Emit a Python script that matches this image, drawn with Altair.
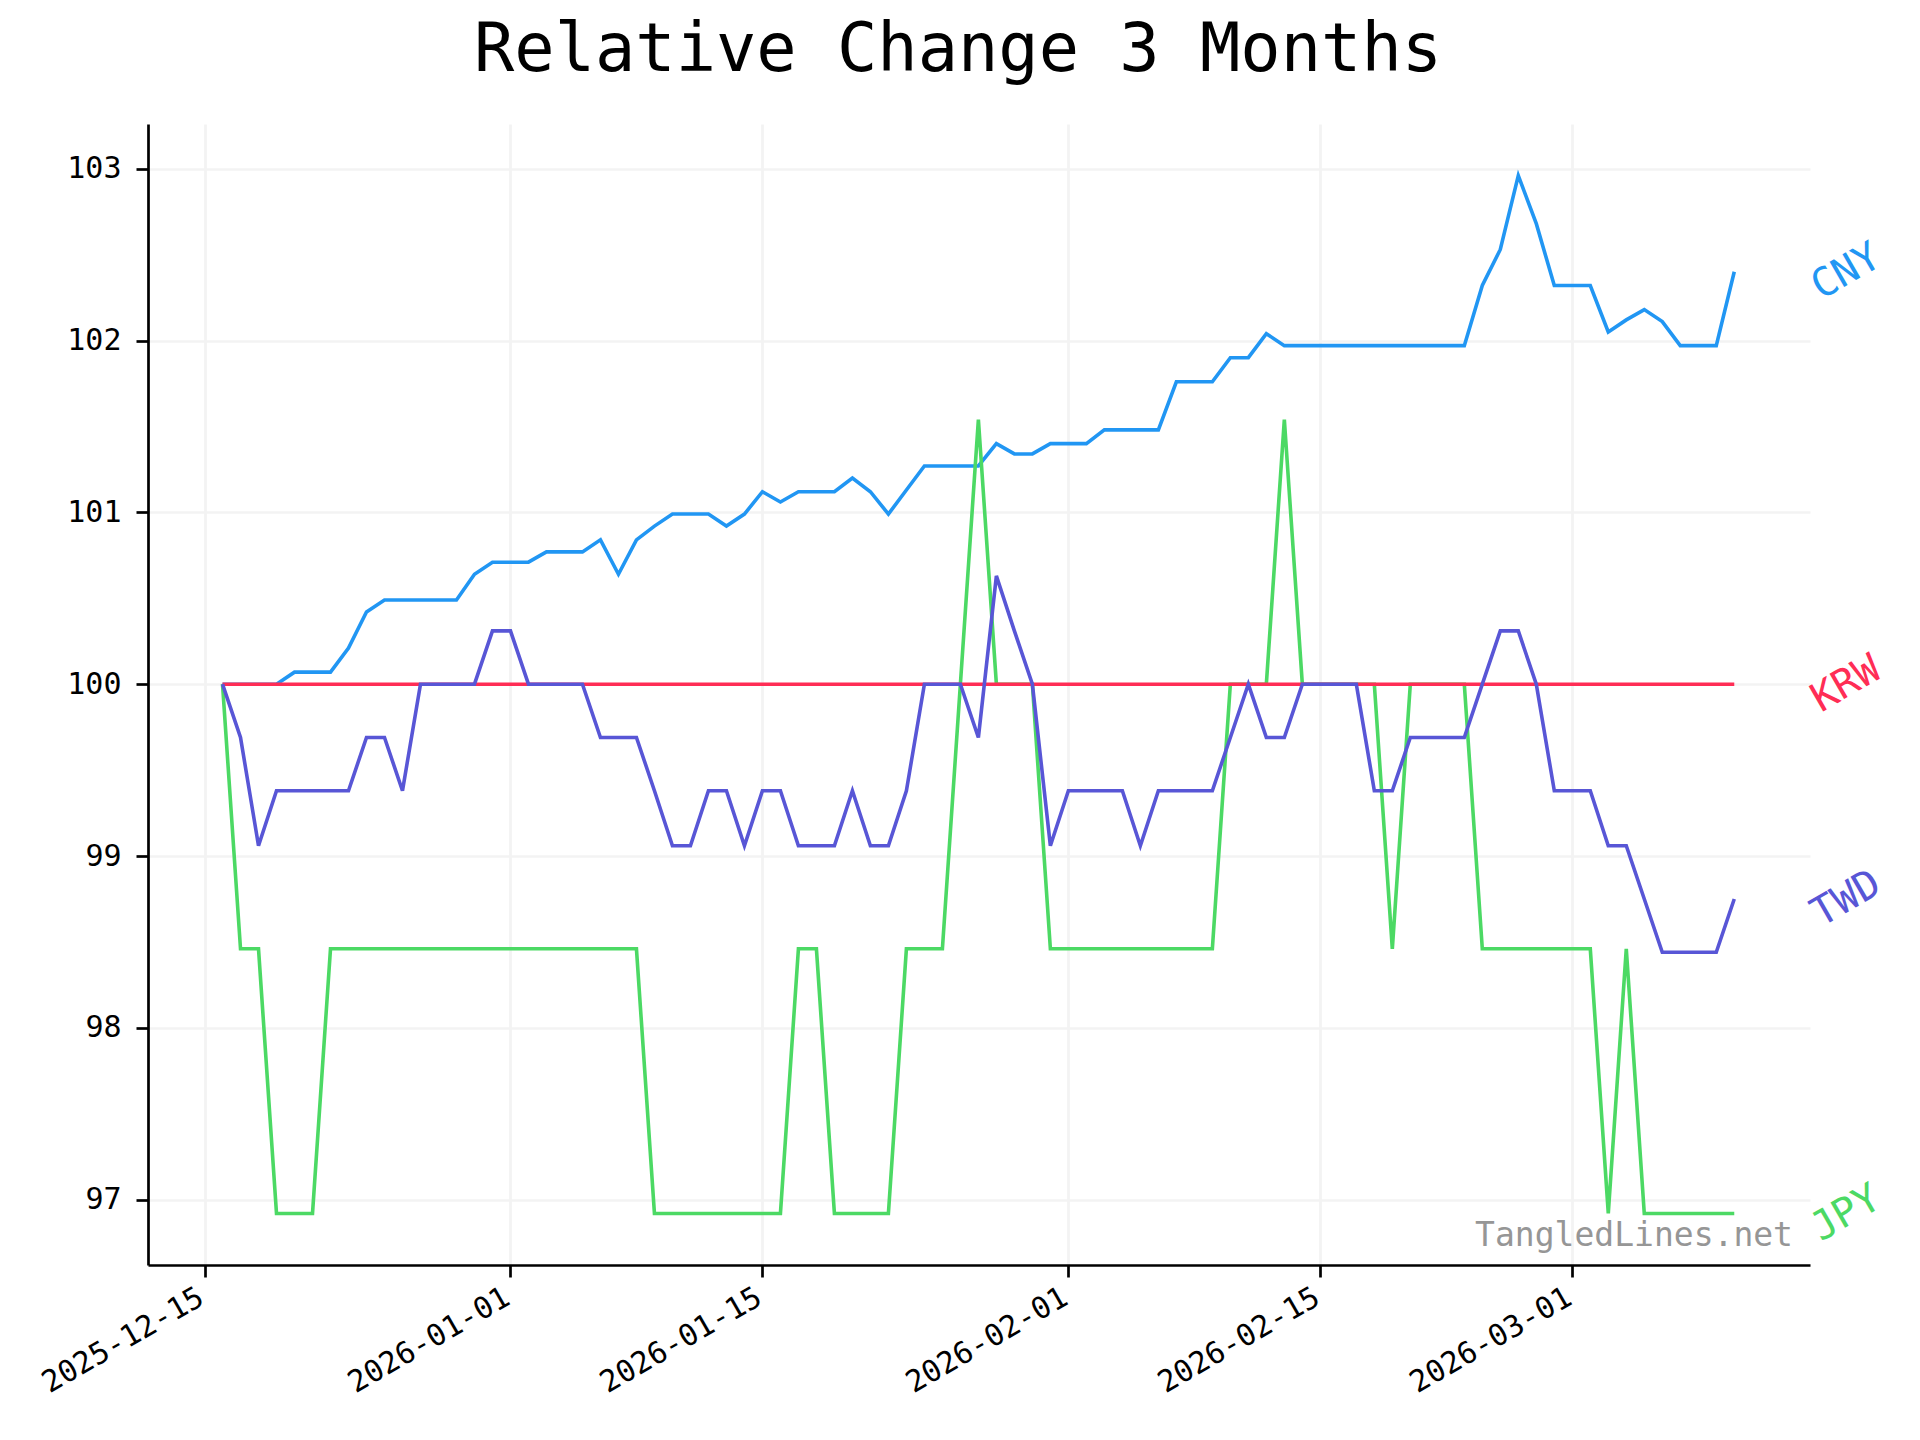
import altair as alt
import pandas as pd

FONT = "DejaVu Sans Mono"

currencies = ["CNY", "JPY", "KRW", "TWD"]
colors = ["#2196F3", "#4CD964", "#FF2D55", "#5856D6"]

dates = pd.date_range("2025-12-16", "2026-03-10", freq="D").strftime("%Y-%m-%d").tolist()

cny = [
    100, 100, 100, 100, 100.07, 100.07, 100.07, 100.21, 100.42, 100.49,
    100.49, 100.49, 100.49, 100.49, 100.64, 100.71, 100.71, 100.71, 100.77, 100.77,
    100.77, 100.84, 100.64, 100.84, 100.92, 100.99, 100.99, 100.99, 100.92, 100.99,
    101.12, 101.06, 101.12, 101.12, 101.12, 101.20, 101.12, 100.99, 101.13, 101.27,
    101.27, 101.27, 101.27, 101.40, 101.34, 101.34, 101.40, 101.40, 101.40, 101.48,
    101.48, 101.48, 101.48, 101.76, 101.76, 101.76, 101.90, 101.90, 102.04, 101.97,
    101.97, 101.97, 101.97, 101.97, 101.97, 101.97, 101.97, 101.97, 101.97, 101.97,
    102.32, 102.53, 102.96, 102.68, 102.32, 102.32, 102.32, 102.05, 102.12, 102.18,
    102.11, 101.97, 101.97, 101.97, 102.40,
]

jpy = [
    100, 98.46, 98.46, 96.92, 96.92, 96.92, 98.46, 98.46, 98.46, 98.46,
    98.46, 98.46, 98.46, 98.46, 98.46, 98.46, 98.46, 98.46, 98.46, 98.46,
    98.46, 98.46, 98.46, 98.46, 96.92, 96.92, 96.92, 96.92, 96.92, 96.92,
    96.92, 96.92, 98.46, 98.46, 96.92, 96.92, 96.92, 96.92, 98.46, 98.46,
    98.46, 100, 101.54, 100, 100, 100, 98.46, 98.46, 98.46, 98.46,
    98.46, 98.46, 98.46, 98.46, 98.46, 98.46, 100, 100, 100, 101.54,
    100, 100, 100, 100, 100, 98.46, 100, 100, 100, 100,
    98.46, 98.46, 98.46, 98.46, 98.46, 98.46, 98.46, 96.92, 98.46, 96.92,
    96.92, 96.92, 96.92, 96.92, 96.92,
]

krw = [
    100, 100, 100, 100, 100, 100, 100, 100, 100, 100,
    100, 100, 100, 100, 100, 100, 100, 100, 100, 100,
    100, 100, 100, 100, 100, 100, 100, 100, 100, 100,
    100, 100, 100, 100, 100, 100, 100, 100, 100, 100,
    100, 100, 100, 100, 100, 100, 100, 100, 100, 100,
    100, 100, 100, 100, 100, 100, 100, 100, 100, 100,
    100, 100, 100, 100, 100, 100, 100, 100, 100, 100,
    100, 100, 100, 100, 100, 100, 100, 100, 100, 100,
    100, 100, 100, 100, 100,
]

twd = [
    100, 99.69, 99.06, 99.38, 99.38, 99.38, 99.38, 99.38, 99.69, 99.69,
    99.38, 100, 100, 100, 100, 100.31, 100.31, 100, 100, 100,
    100, 99.69, 99.69, 99.69, 99.38, 99.06, 99.06, 99.38, 99.38, 99.06,
    99.38, 99.38, 99.06, 99.06, 99.06, 99.38, 99.06, 99.06, 99.38, 100,
    100, 100, 99.69, 100.63, 100.31, 100, 99.06, 99.38, 99.38, 99.38,
    99.38, 99.06, 99.38, 99.38, 99.38, 99.38, 99.69, 100, 99.69, 99.69,
    100, 100, 100, 100, 99.38, 99.38, 99.69, 99.69, 99.69, 99.69,
    100, 100.31, 100.31, 100, 99.38, 99.38, 99.38, 99.06, 99.06, 98.75,
    98.44, 98.44, 98.44, 98.44, 98.75,
]

y_ticks = [97, 98, 99, 100, 101, 102, 103]
x_tick_dates = [(2025, 12, 15), (2026, 1, 1), (2026, 1, 15), (2026, 2, 1), (2026, 2, 15), (2026, 3, 1)]
title_text = "Relative Change 3 Months"
watermark_text = "TangledLines.net"

series = {"CNY": cny, "JPY": jpy, "KRW": krw, "TWD": twd}
rows = []
for name in currencies:
    for d, v in zip(dates, series[name]):
        rows.append({"date": d, "value": v, "currency": name})
df = pd.DataFrame(rows)

labels_df = pd.DataFrame({
    "date": [dates[-1]] * len(currencies),
    "value": [series[c][-1] for c in currencies],
    "currency": currencies,
})

x_scale = alt.Scale(
    type="utc",
    domain=[
        alt.DateTime(year=2025, month=12, date=11, hours=20, minutes=38, utc=True),
        alt.DateTime(year=2026, month=3, date=14, hours=5, utc=True),
    ],
)
y_scale = alt.Scale(domain=[96.62, 103.26], zero=False, nice=False)
color_scale = alt.Scale(domain=currencies, range=colors)

x_axis = alt.Axis(
    values=[alt.DateTime(year=y, month=m, date=d, utc=True) for (y, m, d) in x_tick_dates],
    labelExpr="utcFormat(datum.value, '%Y-%m-%d')",
    labelAngle=330,
    labelAlign="right",
    labelBaseline="top",
    labelPadding=5,
    labelOffset=-11,
    labelLimit=0,
    title=None,
)
y_axis = alt.Axis(values=y_ticks, title=None, labelPadding=15, format="d")

layers = []
for name in currencies:
    layers.append(
        alt.Chart(df)
        .transform_filter(alt.datum.currency == name)
        .mark_line(strokeWidth=3.6)
        .encode(
            x=alt.X("date:T", scale=x_scale, axis=x_axis),
            y=alt.Y("value:Q", scale=y_scale, axis=y_axis),
            color=alt.Color("currency:N", scale=color_scale, legend=None),
        )
    )

labels = (
    alt.Chart(labels_df)
    .mark_text(font=FONT, fontSize=40, angle=330, align="center", baseline="middle", dx=97, dy=56)
    .encode(
        x=alt.X("date:T", scale=x_scale),
        y=alt.Y("value:Q", scale=y_scale),
        text="currency:N",
        color=alt.Color("currency:N", scale=color_scale, legend=None),
    )
)

watermark = (
    alt.Chart(pd.DataFrame({"t": [watermark_text]}))
    .mark_text(font=FONT, fontSize=33, align="right", baseline="alphabetic", color="#969696")
    .encode(x=alt.value(1645), y=alt.value(1122), text="t:N")
)

chart = (
    alt.layer(*layers, labels, watermark)
    .properties(
        width=1662,
        height=1141,
        title=alt.TitleParams(
            title_text,
            font=FONT,
            fontSize=67,
            fontWeight="normal",
            color="black",
            anchor="middle",
            baseline="alphabetic",
            offset=-14,
            dx=-21,
        ),
        autosize=alt.AutoSizeParams(type="none"),
        padding={"left": 140, "top": 116, "right": 102, "bottom": 170},
    )
    .configure(font=FONT)
    .configure_view(stroke=None)
    .configure_axis(
        labelFont=FONT,
        labelFontSize=30,
        labelColor="black",
        domainColor="black",
        domainWidth=2.7,
        tickColor="black",
        tickWidth=2.7,
        tickSize=12,
        grid=True,
        gridColor="#f3f3f3",
        gridWidth=2.7,
    )
)

chart.save("out.html", embed_options={"renderer": "svg", "actions": False})
